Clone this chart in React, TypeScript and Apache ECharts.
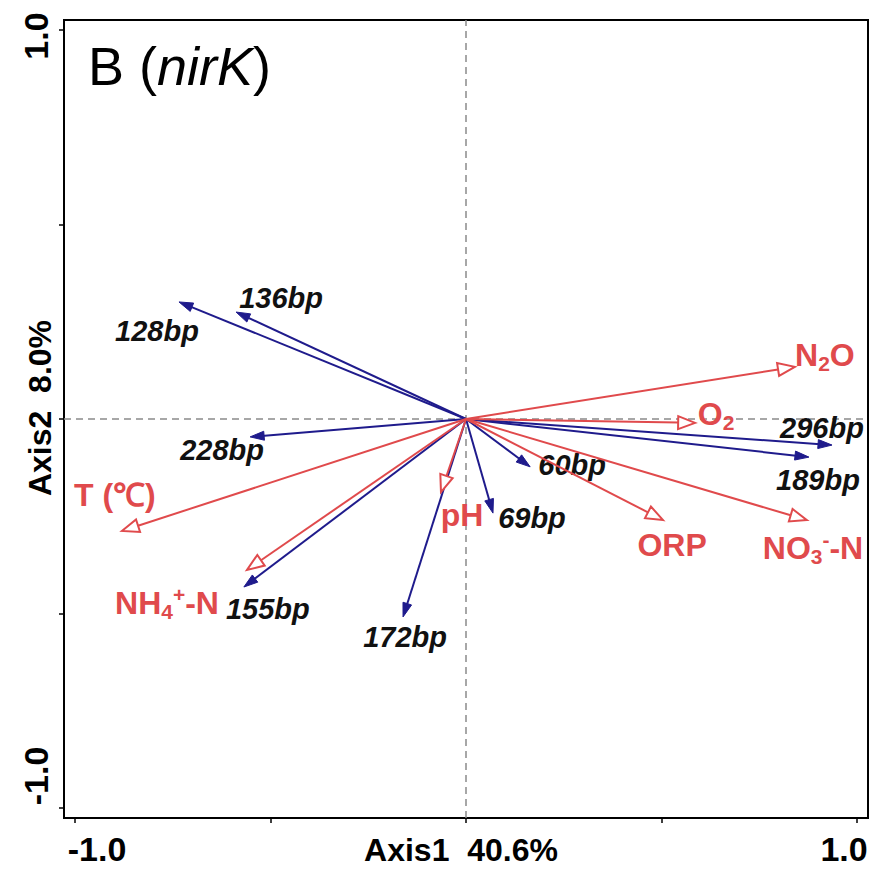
import React, { useEffect, useRef } from 'react';
import * as echarts from 'echarts';

// ---------- data ----------
const speciesNames = ['128bp', '136bp', '228bp', '155bp', '172bp', '69bp', '60bp', '296bp', '189bp'];
const speciesX = [-0.734, -0.588, -0.552, -0.568, -0.161, 0.069, 0.164, 0.936, 0.877];
const speciesY = [0.301, 0.275, -0.046, -0.432, -0.509, -0.242, -0.123, -0.067, -0.098];

const envNames = ['N2O', 'O2', 'NO3--N', 'ORP', 'pH', 'T (℃)', 'NH4+-N'];
const envLabels = ['N{sub|2}O', 'O{sub|2}', 'NO{sub|3}{sup|-}-N', 'ORP', 'pH', 'T (℃)', 'NH{sub|4}{sup|+}-N'];
const envX = [0.841, 0.586, 0.872, 0.504, -0.064, -0.88, -0.56];
const envY = [0.134, -0.01, -0.26, -0.26, -0.188, -0.288, -0.388];

const axisMin = -1.028;
const axisMax = 1.028;
const yMin = -1.026;
const yMax = 1.026;
const xTickValues = [-1, -0.5, 0, 0.5, 1];
const yTickValues = [-1, -0.5, 0, 0.5, 1];
const xTickLabels = ['-1.0', '1.0'];
const yTickLabels = ['1.0', '-1.0'];
const xAxisName = 'Axis1  40.6%';
const yAxisName = 'Axis2  8.0%';

// ---------- layout (label offsets in px from arrow tip) ----------
const speciesOffsets: [number, number][] = [
  [-22, 29], [45, -14], [-28, 13], [24, 22], [2, 20], [39, 5], [42, -2], [-10, -17], [9, 23],
];
const envOffsets: [number, number][] = [
  [30, -12], [21, -9], [6, 28], [9, 25], [21, 23], [-7, -36], [-80, 33],
];

const FONT = "'Liberation Sans', Arial, Helvetica, sans-serif";
const BLUE = '#1f1b8c';
const RED = '#e04a4c';

function arrowItem(kind: 'species' | 'env') {
  return (params: any, api: any) => {
    const x = api.value(0);
    const y = api.value(1);
    const idx = api.value(2);
    const p0 = api.coord([0, 0]);
    const p1 = api.coord([x, y]);
    const dx = p1[0] - p0[0];
    const dy = p1[1] - p0[1];
    const L = Math.hypot(dx, dy) || 1;
    const ux = dx / L, uy = dy / L;
    const nx = -uy, ny = ux;
    const isEnv = kind === 'env';
    const headLen = isEnv ? 17 : 14;
    const headHalf = isEnv ? 6.5 : 4.5;
    const bx = p1[0] - ux * headLen;
    const by = p1[1] - uy * headLen;
    const color = isEnv ? RED : BLUE;
    const off = isEnv ? envOffsets[idx] : speciesOffsets[idx];
    const lineEndX = isEnv ? bx : p1[0] - ux * headLen * 0.6;
    const lineEndY = isEnv ? by : p1[1] - uy * headLen * 0.6;
    const textStyle: any = isEnv
      ? {
          text: envLabels[idx],
          fontSize: 32,
          fontWeight: 'bold',
          fontFamily: FONT,
          fill: RED,
          lineHeight: 38,
          rich: {
            sub: { fontSize: 21, fontWeight: 'bold', fontFamily: FONT, fill: RED, lineHeight: 21, verticalAlign: 'bottom' },
            sup: { fontSize: 21, fontWeight: 'bold', fontFamily: FONT, fill: RED, lineHeight: 21, verticalAlign: 'top' },
          },
        }
      : {
          text: speciesNames[idx],
          fontSize: 29,
          fontWeight: 'bold',
          fontStyle: 'italic',
          fontFamily: FONT,
          fill: '#111111',
        };
    return {
      type: 'group',
      children: [
        {
          type: 'line',
          shape: { x1: p0[0], y1: p0[1], x2: lineEndX, y2: lineEndY },
          style: { stroke: color, lineWidth: 2 },
        },
        {
          type: 'polygon',
          shape: {
            points: [
              [p1[0], p1[1]],
              [bx + nx * headHalf, by + ny * headHalf],
              [bx - nx * headHalf, by - ny * headHalf],
            ],
          },
          style: isEnv
            ? { fill: '#ffffff', stroke: RED, lineWidth: 2 }
            : { fill: BLUE, stroke: BLUE, lineWidth: 1 },
        },
        {
          type: 'text',
          x: p1[0] + off[0],
          y: p1[1] + off[1],
          style: {
            ...textStyle,
            align: 'center',
            verticalAlign: 'middle',
            textAlign: 'center',
            textVerticalAlign: 'middle',
          },
        },
      ],
    };
  };
}

function txt(text: string, x: number, y: number, size: number, rotate = 0, extra: any = {}) {
  return {
    type: 'text',
    x,
    y,
    rotation: rotate,
    style: {
      text,
      fontSize: size,
      fontWeight: 'bold',
      fontFamily: FONT,
      fill: '#000',
      align: 'center',
      verticalAlign: 'middle',
      textAlign: 'center',
      textVerticalAlign: 'middle',
      ...extra,
    },
  };
}

export default function App() {
  const ref = useRef<HTMLDivElement>(null);
  useEffect(() => {
    if (!ref.current) return;
    const chart = echarts.init(ref.current, undefined, { renderer: 'svg' });
    const option: any = {
      animation: false,
      backgroundColor: '#ffffff',
      grid: {
        left: 64,
        top: 20,
        right: 11,
        bottom: 52,
        show: true,
        borderColor: '#000',
        borderWidth: 2,
        backgroundColor: 'transparent',
      },
      xAxis: {
        type: 'value',
        min: axisMin,
        max: axisMax,
        axisLine: { show: true, onZero: false, lineStyle: { color: '#000', width: 2 } },
        axisTick: { show: true, customValues: xTickValues, length: 5, lineStyle: { color: '#000', width: 1.5 } },
        axisLabel: { show: false },
        splitLine: { show: false },
      },
      yAxis: {
        type: 'value',
        min: yMin,
        max: yMax,
        axisLine: { show: true, onZero: false, lineStyle: { color: '#000', width: 2 } },
        axisTick: { show: true, customValues: yTickValues, length: 5, lineStyle: { color: '#000', width: 1.5 } },
        axisLabel: { show: false },
        splitLine: { show: false },
      },
      graphic: [
        {
          type: 'text',
          x: 88,
          y: 66,
          style: {
            text: 'B ({it|nirK})',
            fontSize: 54,
            fontFamily: FONT,
            fill: '#000',
            align: 'left',
            verticalAlign: 'middle',
            textAlign: 'left',
            textVerticalAlign: 'middle',
            rich: { it: { fontSize: 54, fontStyle: 'italic', fontFamily: FONT, fill: '#000' } },
          },
        },
        txt(xTickLabels[0], 97, 849, 34),
        txt(xTickLabels[1], 844, 849, 34),
        txt(xAxisName, 461, 850, 32),
        txt(yTickLabels[0], 36, 36, 34, Math.PI / 2),
        txt(yTickLabels[1], 36, 776, 34, Math.PI / 2),
        txt(yAxisName, 40, 408, 32, Math.PI / 2),
      ],
      series: [
        {
          type: 'line',
          data: [[0, yMin], [0, yMax]],
          symbol: 'none',
          silent: true,
          z: 1,
          lineStyle: { color: '#8a8a8a', width: 1.5, type: [7, 5] },
        },
        {
          type: 'line',
          data: [[axisMin, 0], [axisMax, 0]],
          symbol: 'none',
          silent: true,
          z: 1,
          lineStyle: { color: '#8a8a8a', width: 1.5, type: [7, 5] },
        },
        {
          type: 'custom',
          name: 'species',
          z: 3,
          renderItem: arrowItem('species'),
          data: speciesNames.map((_, i) => [speciesX[i], speciesY[i], i]),
        },
        {
          type: 'custom',
          name: 'env',
          z: 4,
          renderItem: arrowItem('env'),
          data: envNames.map((_, i) => [envX[i], envY[i], i]),
        },
      ],
    };
    chart.setOption(option);
    return () => chart.dispose();
  }, []);
  return (
    <div
      ref={ref}
      style={{ position: 'absolute', left: 0, top: 0, width: 879, height: 870, background: '#fff' }}
    />
  );
}
